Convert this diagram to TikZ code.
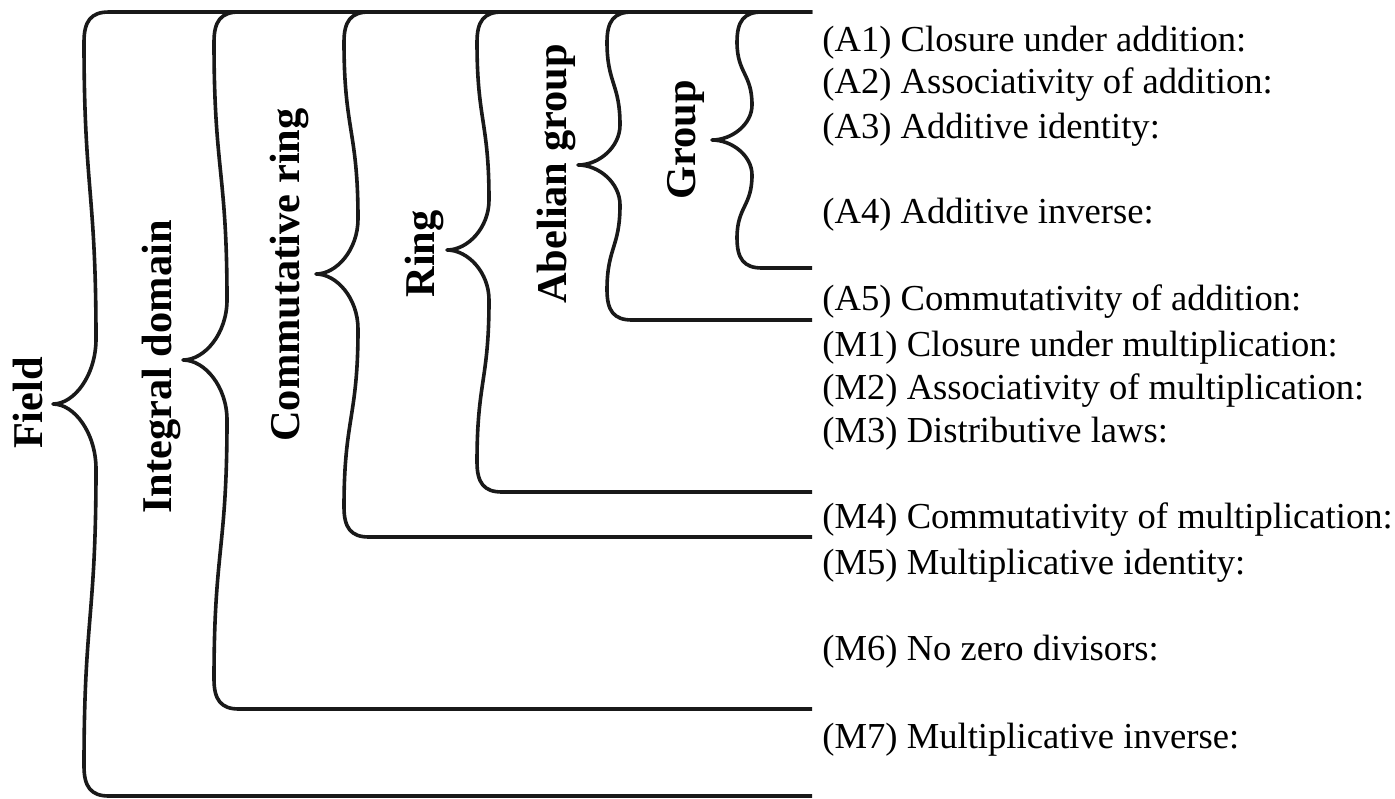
\documentclass[tikz,border=0pt]{standalone}
\usepackage{fontspec}
\setmainfont{Liberation Serif}
% #1 xl, #2 xb, #3 xc, #4 top, #5 mid, #6 bottom, #7 h
\newcommand\mybrace[7]{%
  \draw[bracestyle] (812,#4) -- ({#1+25},#4)
    .. controls ({#1+7},#4) and (#1,{#4+9}) .. (#1,{#4+30})
    .. controls (#1,{(#4+30+#5-#7)/2}) and (#2,{(#4+30+#5-#7)/2}) .. (#2,{#5-#7})
    .. controls (#2,{#5-0.45*#7}) and ({#3+0.5*(#2-#3)},#5) .. (#3,#5)
    .. controls ({#3+0.5*(#2-#3)},#5) and (#2,{#5+0.45*#7}) .. (#2,{#5+#7})
    .. controls (#2,{(#5+#7+#6-30)/2}) and (#1,{(#5+#7+#6-30)/2}) .. (#1,{#6-30})
    .. controls (#1,{#6-9}) and ({#1+7},#6) .. ({#1+25},#6) -- (812,#6);}
\tikzset{
  bracestyle/.style={line width=1.8pt, line join=round, color=black!90},
  item/.style={anchor=base west, inner sep=0pt, font=\fontsize{18.3}{20}\selectfont},
  lab/.style={rotate=90, inner sep=0pt, font=\fontsize{21.2}{24}\selectfont\bfseries}
}
\begin{document}
\begin{tikzpicture}[x=0.5pt,y=-0.5pt]
\useasboundingbox (0,0) rectangle (1395,798);
\fill[white] (0,0) rectangle (1395,798);

\mybrace{84}{96}{53}{12}{404}{796}{65}
\mybrace{214}{227}{183}{12}{360}{709}{60}
\mybrace{344}{358}{316}{12}{274}{537}{55}
\mybrace{477}{489}{447}{12}{250}{492}{50}
\mybrace{607}{620}{578}{12}{165}{320}{40}
\mybrace{737}{752}{712}{12}{140}{268}{35}

\node[lab] (field) at (28,403) {Field};
\node[lab] (intdom) at (161,367) {Integral domain};
\node[lab] (commring) at (289,275) {Commutative ring};
\node[lab] (ring) at (424,254) {Ring};
\node[lab] (abel) at (556,174) {Abelian group};
\node[lab] (group) at (686,140) {Group};

\node[item] (a1) at (822,51) {(A1) Closure under addition:};
\node[item] (a2) at (822,93) {(A2) Associativity of addition:};
\node[item] (a3) at (822,138) {(A3) Additive identity:};
\node[item] (a4) at (822,223) {(A4) Additive inverse:};
\node[item] (a5) at (822,310) {(A5) Commutativity of addition:};
\node[item] (m1) at (822,356) {(M1) Closure under multiplication:};
\node[item] (m2) at (822,399) {(M2) Associativity of multiplication:};
\node[item] (m3) at (822,442) {(M3) Distributive laws:};
\node[item] (m4) at (822,528) {(M4) Commutativity of multiplication:};
\node[item] (m5) at (822,574) {(M5) Multiplicative identity:};
\node[item] (m6) at (822,660) {(M6) No zero divisors:};
\node[item] (m7) at (822,748) {(M7) Multiplicative inverse:};
\end{tikzpicture}
\end{document}
